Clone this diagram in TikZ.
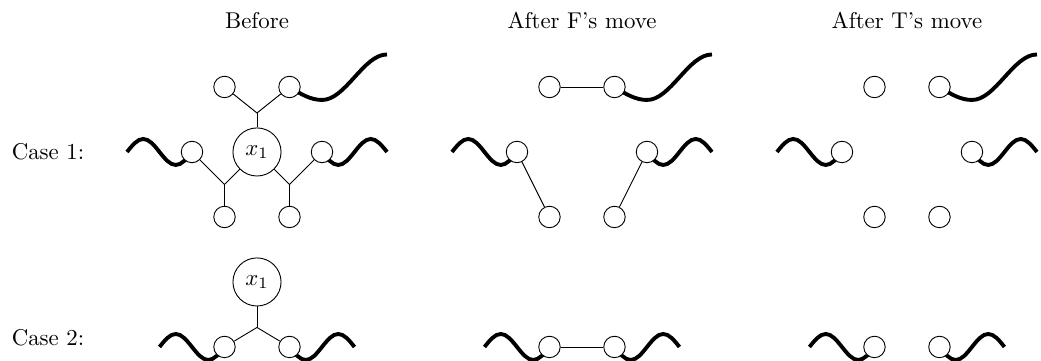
\documentclass[tikz,border=0pt]{standalone}
\usepackage{amsmath}
\usetikzlibrary{backgrounds}
\tikzset{vertex/.style={
    circle,
    draw,
    fill=white,
    minimum size=3.3mm,
    inner sep=0pt
}}
\tikzset{bigvertex/.style={
    circle,
    draw,
    fill=white,
    minimum size=7.4mm,
    inner sep=0pt
}}
\tikzset{strand/.style={line width=1.7pt}}

\begin{document}
\begin{tikzpicture}
    \useasboundingbox (-3.954,-3.215) rectangle (12.062,2.338);
    % column heads
    \node [anchor=base] (hb) at (0,1.9)  {Before};
    \node [anchor=base] (hf) at (5,1.9)  {After F's move};
    \node [anchor=base] (ht) at (10,1.9) {After T's move};
    % row labels
    \node [anchor=base west, inner sep=0pt] (case1) at (-3.78,-0.11) {Case 1:};
    \node [anchor=base west, inner sep=0pt] (case2) at (-3.78,-2.98) {Case 2:};
    % circles and strands, the same in every column
    \foreach \c/\dx in {b/0, f/5, t/10} {
        \begin{scope}[xshift=\dx cm]
            \node [vertex] (\c t1) at (-0.5,1)  {};
            \node [vertex] (\c t2) at (0.5,1)   {};
            \node [vertex] (\c l)  at (-1,0)    {};
            \node [vertex] (\c r)  at (1,0)     {};
            \node [vertex] (\c b1) at (-0.5,-1) {};
            \node [vertex] (\c b2) at (0.5,-1)  {};
            \node [vertex] (\c l2) at (-0.5,-3) {};
            \node [vertex] (\c r2) at (0.5,-3)  {};
            \coordinate (\c wt)  at (2,1.5);
            \coordinate (\c wl)  at (-2,0);
            \coordinate (\c wr)  at (2,0);
            \coordinate (\c wl2) at (-1.5,-3);
            \coordinate (\c wr2) at (1.5,-3);
            \begin{pgfonlayer}{background}
                \draw [strand] (\c t2.center) sin ++(0.5,-0.2) cos ++(0.5,0.35) sin (\c wt);
                \draw [strand] (\c wl) sin ++(0.25,0.2) cos ++(0.25,-0.2)
                    sin ++(0.25,-0.2) cos (\c l.center);
                \draw [strand] (\c r.center) sin ++(0.25,-0.2) cos ++(0.25,0.2)
                    sin ++(0.25,0.2) cos (\c wr);
                \draw [strand] (\c wl2) sin ++(0.25,0.2) cos ++(0.25,-0.2)
                    sin ++(0.25,-0.2) cos (\c l2.center);
                \draw [strand] (\c r2.center) sin ++(0.25,-0.2) cos ++(0.25,0.2)
                    sin ++(0.25,0.2) cos (\c wr2);
            \end{pgfonlayer}
        \end{scope}
    }
    % Before
    \node [bigvertex] (bx)  at (0,0)  {$x_1$};
    \node [bigvertex] (bx2) at (0,-2) {$x_1$};
    \coordinate (bjt) at (0,0.6);
    \coordinate (bjl) at (-0.5,-0.5);
    \coordinate (bjr) at (0.5,-0.5);
    \coordinate (bj2) at (0,-2.7);
    \draw (bt1) -- (bjt) -- (bt2);
    \draw (bjt) -- (bx);
    \draw (bl) -- (bjl) -- (bx);
    \draw (bjl) -- (bb1);
    \draw (br) -- (bjr) -- (bx);
    \draw (bjr) -- (bb2);
    \draw (bl2) -- (bj2) -- (br2);
    \draw (bj2) -- (bx2);
    % After F's move
    \draw (ft1) -- (ft2);
    \draw (fl) -- (fb1);
    \draw (fr) -- (fb2);
    \draw (fl2) -- (fr2);
\end{tikzpicture}
\end{document}
